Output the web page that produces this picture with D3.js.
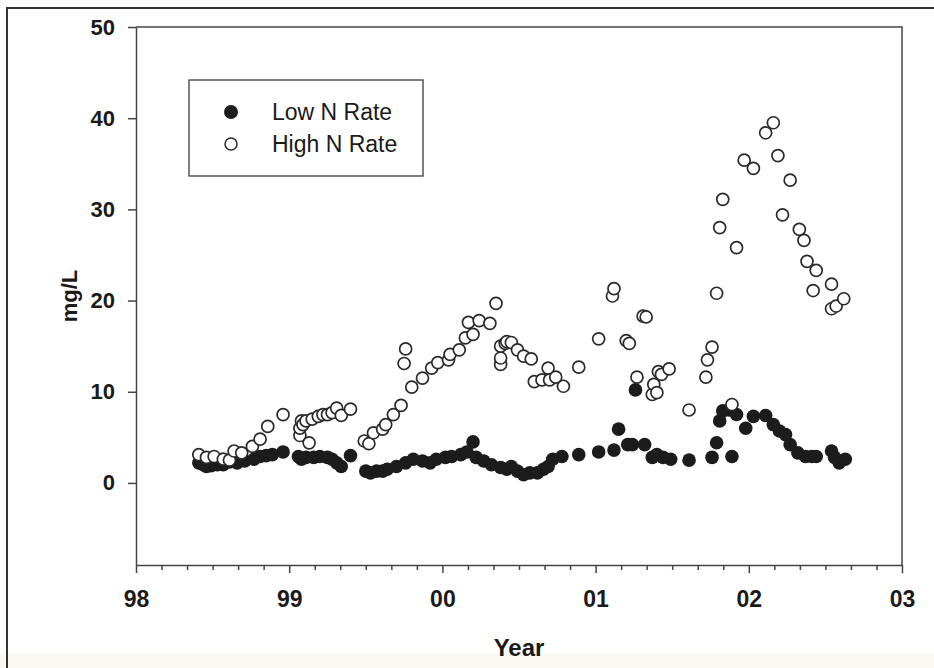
<!DOCTYPE html>
<html>
<head>
<meta charset="utf-8">
<script src="https://cdn.jsdelivr.net/npm/d3@7"></script>
<style>
    body { margin: 0; background: #fff; }
    svg { display: block; font-family: Arial, "Liberation Sans", sans-serif; }
    .axis path, .axis line { stroke: #444; stroke-width: 1.5; }
    .axis text { fill: #1a1a1a; font-weight: bold; }
</style>
</head>
<body>
<div id="chart"></div>
<script>
// Low N rate samples (decimal year, mg/L)
var lowYears = [1998.41, 1998.44, 1998.46, 1998.49, 1998.53, 1998.57, 1998.61, 1998.66, 1998.71, 1998.77,
    1998.81, 1998.85, 1998.89, 1998.96, 1999.06, 1999.08, 1999.11, 1999.16, 1999.20, 1999.25,
    1999.28, 1999.31, 1999.34, 1999.40, 1999.50, 1999.53, 1999.57, 1999.61, 1999.64, 1999.70,
    1999.76, 1999.81, 1999.87, 1999.92, 1999.96, 2000.02, 2000.06, 2000.12, 2000.16, 2000.20,
    2000.22, 2000.27, 2000.32, 2000.38, 2000.42, 2000.45, 2000.49, 2000.53, 2000.57, 2000.62,
    2000.66, 2000.69, 2000.72, 2000.78, 2000.89, 2001.02, 2001.12, 2001.15, 2001.21, 2001.24,
    2001.26, 2001.32, 2001.37, 2001.40, 2001.44, 2001.49, 2001.61, 2001.76, 2001.79, 2001.81,
    2001.83, 2001.87, 2001.89, 2001.92, 2001.98, 2002.03, 2002.11, 2002.16, 2002.20, 2002.24,
    2002.27, 2002.32, 2002.37, 2002.41, 2002.44, 2002.54, 2002.56, 2002.59, 2002.63];
var lowValues = [2.2, 2.0, 1.8, 1.9, 2.0, 2.0, 2.3, 2.2, 2.4, 2.6,
    2.9, 3.0, 3.1, 3.4, 2.9, 2.6, 2.8, 2.8, 2.9, 2.8,
    2.6, 2.2, 1.8, 3.0, 1.3, 1.1, 1.3, 1.3, 1.5, 1.8,
    2.2, 2.6, 2.4, 2.2, 2.6, 2.8, 2.9, 3.1, 3.4, 4.5,
    2.8, 2.4, 2.0, 1.7, 1.5, 1.8, 1.3, 0.9, 1.1, 1.1,
    1.5, 1.8, 2.6, 2.9, 3.1, 3.4, 3.6, 5.9, 4.2, 4.2,
    10.2, 4.2, 2.8, 3.1, 2.8, 2.6, 2.5, 2.8, 4.4, 6.8,
    7.9, 8.0, 2.9, 7.5, 6.0, 7.3, 7.4, 6.4, 5.7, 5.3,
    4.2, 3.3, 2.9, 2.9, 2.9, 3.5, 2.8, 2.2, 2.6];

// High N rate samples
var highYears = [1998.41, 1998.46, 1998.51, 1998.57, 1998.61, 1998.64, 1998.69, 1998.76, 1998.81, 1998.86,
    1998.96, 1999.07, 1999.07, 1999.08, 1999.09, 1999.11, 1999.13, 1999.15, 1999.19, 1999.22,
    1999.25, 1999.28, 1999.31, 1999.34, 1999.40, 1999.49, 1999.52, 1999.55, 1999.61, 1999.63,
    1999.68, 1999.73, 1999.75, 1999.76, 1999.80, 1999.87, 1999.93, 1999.97, 2000.04, 2000.05,
    2000.11, 2000.15, 2000.20, 2000.17, 2000.24, 2000.31, 2000.35, 2000.38, 2000.38, 2000.38,
    2000.41, 2000.42, 2000.45, 2000.49, 2000.53, 2000.58, 2000.60, 2000.65, 2000.69, 2000.70,
    2000.74, 2000.79, 2000.89, 2001.02, 2001.11, 2001.12, 2001.20, 2001.22, 2001.27, 2001.31,
    2001.33, 2001.37, 2001.38, 2001.40, 2001.41, 2001.43, 2001.48, 2001.61, 2001.72, 2001.73,
    2001.76, 2001.79, 2001.81, 2001.83, 2001.89, 2001.92, 2001.97, 2002.03, 2002.11, 2002.16,
    2002.19, 2002.22, 2002.27, 2002.33, 2002.36, 2002.38, 2002.42, 2002.44, 2002.54, 2002.54,
    2002.57, 2002.62];
var highValues = [3.1, 2.8, 2.9, 2.6, 2.5, 3.5, 3.3, 4.0, 4.8, 6.2,
    7.5, 5.2, 6.0, 6.8, 6.4, 6.8, 4.4, 7.0, 7.3, 7.5,
    7.5, 7.7, 8.2, 7.4, 8.1, 4.6, 4.3, 5.5, 5.9, 6.4,
    7.5, 8.5, 13.1, 14.7, 10.5, 11.5, 12.6, 13.2, 13.5, 14.1,
    14.6, 15.9, 16.3, 17.6, 17.8, 17.5, 19.7, 13.0, 13.7, 15.0,
    15.3, 15.5, 15.4, 14.6, 13.9, 13.6, 11.1, 11.3, 12.6, 11.3,
    11.6, 10.6, 12.7, 15.8, 20.5, 21.3, 15.6, 15.3, 11.6, 18.3,
    18.2, 9.7, 10.8, 9.9, 12.2, 11.9, 12.5, 8.0, 11.6, 13.5,
    14.9, 20.8, 28.0, 31.1, 8.6, 25.8, 35.4, 34.5, 38.4, 39.5,
    35.9, 29.4, 33.2, 27.8, 26.6, 24.3, 21.1, 23.3, 21.8, 19.1,
    19.4, 20.2];

var yTicks = [0, 10, 20, 30, 40, 50];
var xTicks = [1998, 1999, 2000, 2001, 2002, 2003];
var seriesNames = ["Low N Rate", "High N Rate"];

var WIDTH = 934, HEIGHT = 668;
var plot = { left: 136, right: 902, top: 27, bottom: 565 };
var R = 6;

var svg = d3.select("#chart").append("svg")
    .attr("width", WIDTH)
    .attr("height", HEIGHT);

// scanned page frame (top + left edge) and the faint strip at the bottom
svg.append("rect").attr("x", 0).attr("y", 654).attr("width", WIDTH).attr("height", 14)
    .attr("fill", "#fbf8f2");
svg.append("path")
    .attr("d", "M7 " + HEIGHT + " L7 8 L" + WIDTH + " 8")
    .attr("fill", "none").attr("stroke", "#333").attr("stroke-width", 2);

var x = d3.scaleLinear().domain([1998, 2003]).range([plot.left, plot.right]);
var y = d3.scaleLinear().domain([-9, 50]).range([plot.bottom, plot.top]);

// minor ticks every two months
var minorTicks = d3.range(0, 31).map(function(i){ return 1998 + i / 6; })
    .filter(function(d, i){ return i % 6 != 0; });

svg.append("g")
    .attr("class", "axis")
    .attr("transform", "translate(0," + plot.bottom + ")")
    .call(d3.axisBottom(x).tickValues(minorTicks).tickSize(5).tickFormat(""))
    .call(function(g){ g.select(".domain").remove(); });

svg.append("g")
    .attr("class", "axis")
    .attr("transform", "translate(0," + plot.bottom + ")")
    .call(d3.axisBottom(x).tickValues(xTicks).tickSize(8).tickSizeOuter(0).tickPadding(18)
        .tickFormat(function(d){ return String(d).slice(2); }))
    .selectAll("text").style("font-size", "23px");

svg.append("g")
    .attr("class", "axis")
    .attr("transform", "translate(" + plot.left + ",0)")
    .call(d3.axisLeft(y).tickValues(yTicks).tickSize(8).tickSizeOuter(0).tickPadding(13))
    .selectAll("text").style("font-size", "22px");

// top and right edges of the plot box
svg.append("path")
    .attr("d", "M" + plot.left + " " + plot.top + " L" + plot.right + " " + plot.top + " L" + plot.right + " " + plot.bottom)
    .attr("fill", "none").attr("stroke", "#444").attr("stroke-width", 1.5);

// axis titles
svg.append("text")
    .attr("x", (plot.left + plot.right) / 2)
    .attr("y", 656)
    .attr("text-anchor", "middle")
    .style("font-size", "24px").style("font-weight", "bold").style("fill", "#1a1a1a")
    .text("Year");

svg.append("text")
    .attr("transform", "translate(77," + (plot.top + plot.bottom) / 2 + ") rotate(-90)")
    .attr("text-anchor", "middle")
    .style("font-size", "22px").style("font-weight", "bold").style("fill", "#1a1a1a")
    .text("mg/L");

var lowData = d3.zip(lowYears, lowValues);
var highData = d3.zip(highYears, highValues);

svg.append("g").selectAll("circle").data(lowData)
    .enter().append("circle")
    .attr("cx", function(d){ return x(d[0]); })
    .attr("cy", function(d){ return y(d[1]); })
    .attr("r", R + 0.8)
    .attr("fill", "#1c1c1c");

svg.append("g").selectAll("circle").data(highData)
    .enter().append("circle")
    .attr("cx", function(d){ return x(d[0]); })
    .attr("cy", function(d){ return y(d[1]); })
    .attr("r", R)
    .attr("fill", "#fff")
    .attr("stroke", "#2a2a2a")
    .attr("stroke-width", 1.7);

// legend
var legend = svg.append("g");
legend.append("rect")
    .attr("x", 189).attr("y", 80).attr("width", 234).attr("height", 96)
    .attr("fill", "#fff").attr("stroke", "#555").attr("stroke-width", 1.5);

legend.selectAll("circle").data(seriesNames)
    .enter().append("circle")
    .attr("cx", 231)
    .attr("cy", function(d, i){ return 112 + i * 32; })
    .attr("r", function(d, i){ return i == 0 ? R + 1 : R; })
    .attr("fill", function(d, i){ return i == 0 ? "#1c1c1c" : "#fff"; })
    .attr("stroke", function(d, i){ return i == 0 ? "none" : "#2a2a2a"; })
    .attr("stroke-width", 1.5);

legend.selectAll("text").data(seriesNames)
    .enter().append("text")
    .attr("x", 272)
    .attr("y", function(d, i){ return 120 + i * 32; })
    .style("font-size", "23px").style("fill", "#1a1a1a")
    .text(function(d){ return d; });
</script>
</body>
</html>
